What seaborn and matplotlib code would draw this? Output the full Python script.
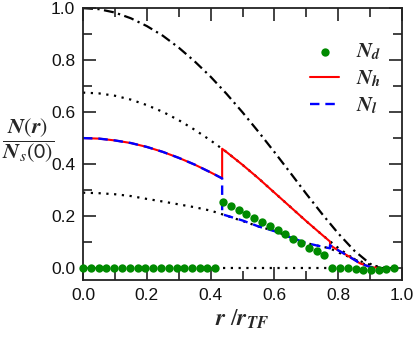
import numpy as np
import pandas as pd
import matplotlib
matplotlib.use("Agg")
import matplotlib.pyplot as plt
import seaborn as sns

# values (r / r_TF on x, N(r)/N_s(0) on y)
r_dd = [0.0, 0.05, 0.1, 0.15, 0.2, 0.25, 0.3, 0.35, 0.4, 0.45, 0.5, 0.55,
        0.6, 0.65, 0.7, 0.75, 0.8, 0.85, 0.9, 0.93, 0.97]
n_dd = [1.0, 0.996, 0.983, 0.961, 0.931, 0.894, 0.848, 0.795, 0.736, 0.670,
        0.599, 0.524, 0.446, 0.366, 0.285, 0.207, 0.133, 0.067, 0.016, 0.0, 0.0]

r_up = [0.0, 0.05, 0.1, 0.15, 0.2, 0.25, 0.3, 0.35, 0.4, 0.45, 0.5, 0.55,
        0.6, 0.65, 0.7, 0.75, 0.8, 0.85, 0.9, 0.915]
n_up = [0.675, 0.672, 0.663, 0.648, 0.627, 0.601, 0.569, 0.532, 0.491, 0.446,
        0.397, 0.345, 0.290, 0.235, 0.180, 0.127, 0.077, 0.034, 0.004, 0.0]

r_lo = [0.0, 0.05, 0.1, 0.15, 0.2, 0.25, 0.3, 0.35, 0.4, 0.436, 0.5, 0.55,
        0.6, 0.65, 0.7, 0.75, 0.774, 0.8, 0.85, 0.9, 0.95]
n_lo = [0.290, 0.288, 0.284, 0.277, 0.266, 0.256, 0.245, 0.234, 0.221, 0.207,
        0.181, 0.160, 0.143, 0.118, 0.096, 0.082, 0.076, 0.060, 0.035, 0.012, 0.0]

r_zero = [0.0, 0.97]
n_zero = [0.0, 0.0]

r_h = [0.0, 0.05, 0.1, 0.15, 0.2, 0.25, 0.3, 0.35, 0.4, 0.436,
       0.436, 0.45, 0.5, 0.55, 0.6, 0.65, 0.7, 0.75, 0.774,
       0.774, 0.8, 0.826, 0.85, 0.868, 0.9, 0.93]
n_h = [0.5, 0.498, 0.491, 0.481, 0.466, 0.447, 0.424, 0.398, 0.368, 0.345,
       0.459, 0.446, 0.397, 0.345, 0.290, 0.235, 0.180, 0.127, 0.102,
       0.088, 0.068, 0.050, 0.032, 0.018, 0.004, 0.0]

r_l = [0.0, 0.05, 0.1, 0.15, 0.2, 0.25, 0.3, 0.35, 0.4, 0.436,
       0.436, 0.5, 0.55, 0.6, 0.65, 0.7, 0.75, 0.774,
       0.774, 0.8, 0.826, 0.85, 0.868, 0.9, 0.93]
n_l = [0.5, 0.498, 0.491, 0.481, 0.466, 0.447, 0.424, 0.398, 0.368, 0.345,
       0.207, 0.183, 0.160, 0.142, 0.118, 0.096, 0.082, 0.076,
       0.088, 0.068, 0.050, 0.032, 0.018, 0.004, 0.0]

r_d = [0.0, 0.024, 0.049, 0.073, 0.098, 0.122, 0.146, 0.171, 0.195, 0.220,
       0.244, 0.268, 0.293, 0.317, 0.341, 0.366, 0.390, 0.415, 0.439, 0.463,
       0.488, 0.512, 0.537, 0.561, 0.585, 0.610, 0.634, 0.659, 0.683, 0.707,
       0.732, 0.756, 0.780, 0.805, 0.829, 0.854, 0.878, 0.902, 0.927, 0.951,
       0.976]
n_d = [0.0] * 18 + [0.254, 0.238, 0.223, 0.209, 0.193, 0.178, 0.162, 0.146,
                    0.130, 0.113, 0.096, 0.079, 0.064, 0.050,
                    0.0, 0.0, 0.0, -0.002, -0.006, -0.008, -0.006, -0.003, 0.0]

sns.set_style("ticks")
plt.rcParams["font.family"] = ["Liberation Sans", "DejaVu Sans"]
plt.rcParams["mathtext.fontset"] = "stix"

fig = plt.figure(figsize=(4.15, 3.39), dpi=100)
ax = fig.add_axes([0.2, 0.174, 0.769, 0.802])

dot = (0, (1, 2.5))
for xs, ys in [(r_up, n_up), (r_lo, n_lo), (r_zero, n_zero)]:
    sns.lineplot(x=xs, y=ys, ax=ax, color="black", lw=1.6, linestyle=dot,
                 sort=False, estimator=None)
sns.lineplot(x=r_dd, y=n_dd, ax=ax, color="black", lw=1.6,
             linestyle=(0, (4.5, 2, 1, 2)), sort=False, estimator=None)

sns.lineplot(x=r_h, y=n_h, ax=ax, color="#ff0000", lw=1.5,
             sort=False, estimator=None, label=r"$\mathbfit{N}_{\mathbfit{h}}$")
sns.lineplot(x=r_l, y=n_l, ax=ax, color="#0000ff", lw=1.7,
             linestyle=(0, (4, 2.5)), sort=False, estimator=None,
             label=r"$\mathbfit{N}_{\mathbfit{l}}$")
sns.scatterplot(x=r_d, y=n_d, ax=ax, color="#008a00", s=36, linewidth=0,
                clip_on=False, zorder=5, label=r"$\mathbfit{N}_{\mathbfit{d}}$")

ax.set_xlim(0, 1.0)
ax.set_ylim(-0.046, 1.0)
ax.set_xticks(np.arange(0, 1.01, 0.2))
ax.set_yticks(np.arange(0, 1.01, 0.2))
ax.set_xticks(np.arange(0, 1.01, 0.1), minor=True)
ax.set_yticks(np.arange(0, 1.01, 0.1), minor=True)
ax.xaxis.set_major_formatter(matplotlib.ticker.FormatStrFormatter("%.1f"))
ax.yaxis.set_major_formatter(matplotlib.ticker.FormatStrFormatter("%.1f"))
ax.tick_params(which="both", direction="in", top=True, right=True,
               width=1.2, labelsize=12.5, pad=5.5, color="#222222",
               labelcolor="#111111")
ax.tick_params(which="major", length=9.5)
ax.tick_params(which="minor", length=6.5)
for s in ax.spines.values():
    s.set_linewidth(1.3)
    s.set_color("#222222")

ax.set_xlabel("")
ax.set_ylabel("")
fig.text(0.583, 0.025, r"$\mathbfit{r}\ /\mathbfit{r}_{\mathbfit{TF}}$",
         fontsize=17, ha="center", va="bottom")
fig.text(0.068, 0.585, r"$\dfrac{\mathbfit{N}(\mathbfit{r})}{\mathbfit{N}_s(\mathsf{0})}$",
         fontsize=16, ha="center", va="center")

h, l = ax.get_legend_handles_labels()
order = [2, 0, 1]
ax.legend([h[i] for i in order], [l[i] for i in order], loc="upper right",
          frameon=False, fontsize=15, handlelength=1.4, labelspacing=0.3,
          handletextpad=0.8, borderaxespad=0.6, bbox_to_anchor=(1.0, 0.955))

fig.savefig("out.png", dpi=100)
